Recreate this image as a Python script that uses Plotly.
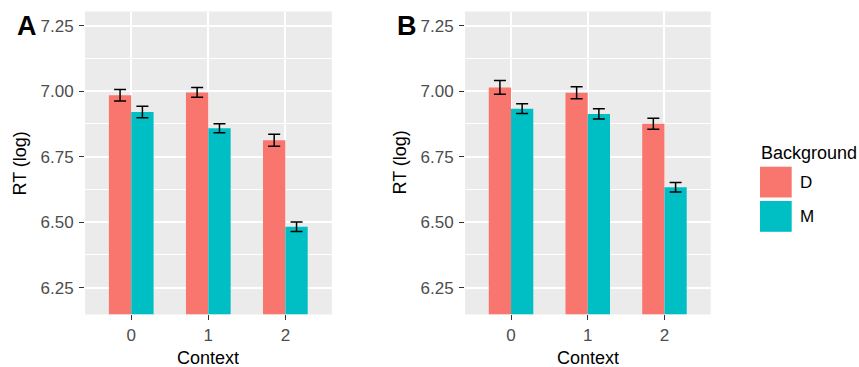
import plotly.graph_objects as go

# Mean log RT by context and background, with standard errors
contexts = ["0", "1", "2"]
groups = ["D", "M"]

a_D = [6.984, 6.995, 6.812]
a_M = [6.920, 6.858, 6.482]
a_D_se = [0.022, 0.019, 0.023]
a_M_se = [0.022, 0.017, 0.018]

b_D = [7.014, 6.994, 6.875]
b_M = [6.933, 6.913, 6.633]
b_D_se = [0.026, 0.023, 0.021]
b_M_se = [0.019, 0.020, 0.018]

y_ticks = [6.25, 6.50, 6.75, 7.00, 7.25]
y_tick_text = ["6.25", "6.50", "6.75", "7.00", "7.25"]
y_minor = [6.375, 6.625, 6.875, 7.125]

colors = {"D": "#F8766D", "M": "#00BFC4"}
FONT = "Liberation Sans, Arial, sans-serif"
W, H = 859, 367

fig = go.Figure()

panels = [
    ("x", "y", {"D": (a_D, a_D_se), "M": (a_M, a_M_se)}),
    ("x2", "y2", {"D": (b_D, b_D_se), "M": (b_M, b_M_se)}),
]
for xa, ya, data in panels:
    for g in groups:
        vals, se = data[g]
        fig.add_trace(go.Bar(
            x=contexts, y=vals, name=g, xaxis=xa, yaxis=ya,
            marker=dict(color=colors[g], line=dict(width=0)),
            error_y=dict(type="data", array=se, visible=True,
                         color="black", thickness=1.5, width=6),
            showlegend=False, hoverinfo="skip",
        ))

y_dom = [1 - 314.3 / H, 1 - 11.7 / H]
x_doms = [[85 / W, 331.6 / W], [465 / W, 710.5 / W]]

axis_common = dict(
    showline=False, zeroline=False, ticks="outside", ticklen=5,
    tickwidth=1.3, tickcolor="#333333", gridcolor="white",
    tickfont=dict(family=FONT, size=17, color="#4D4D4D"),
    automargin=False,
)

for i, xd in enumerate(x_doms):
    suffix = "" if i == 0 else str(i + 1)
    fig.update_layout(**{
        "xaxis" + suffix: dict(
            domain=xd, anchor="y" + suffix, type="category",
            range=[-0.6, 2.6], gridwidth=2, ticklabelstandoff=0,
            **axis_common),
        "yaxis" + suffix: dict(
            domain=y_dom, anchor="x" + suffix,
            range=[6.148, 7.303], tickvals=y_ticks, ticktext=y_tick_text,
            gridwidth=2, ticklabelstandoff=2,
            minor=dict(tickvals=y_minor, showgrid=True, gridcolor="white",
                       gridwidth=1, ticks=""),
            **axis_common),
    })

shapes = []
annotations = []
# panel backgrounds
for xd in x_doms:
    shapes.append(dict(type="rect", xref="paper", yref="paper",
                       x0=xd[0], x1=xd[1], y0=y_dom[0], y1=y_dom[1],
                       fillcolor="#EBEBEB", line=dict(width=0), layer="below"))

title_font = dict(family=FONT, size=18, color="black")
for xd, tag, tag_x in zip(x_doms, ["A", "B"], [26.5, 406.5]):
    annotations.append(dict(text="Context", xref="paper", yref="paper",
                            x=(xd[0] + xd[1]) / 2, y=1 - 358 / H,
                            showarrow=False, font=title_font,
                            height=18, borderpad=0, valign="middle",
                            xanchor="center", yanchor="middle"))
    annotations.append(dict(text="RT (log)", xref="paper", yref="paper",
                            x=xd[0] - 65.5 / W, y=(y_dom[0] + y_dom[1]) / 2,
                            textangle=-90, showarrow=False, font=title_font,
                            xanchor="center", yanchor="middle"))
    annotations.append(dict(text="<b>" + tag + "</b>", xref="paper", yref="paper",
                            x=tag_x / W, y=1 - 26 / H, showarrow=False,
                            font=dict(family=FONT, size=27, color="black"),
                            xanchor="center", yanchor="middle"))

# legend drawn as keys plus labels
annotations.append(dict(text="Background", xref="paper", yref="paper",
                        x=759 / W, y=1 - 153 / H, showarrow=False,
                        font=title_font, xanchor="left", yanchor="middle"))
key_tops = [166.7, 201.0]
for g, top in zip(groups, key_tops):
    shapes.append(dict(type="rect", xref="paper", yref="paper",
                       x0=760 / W, x1=791.7 / W,
                       y0=1 - (top + 30.8) / H, y1=1 - top / H,
                       fillcolor=colors[g], line=dict(width=0)))
    annotations.append(dict(text=g, xref="paper", yref="paper",
                            x=798 / W, y=1 - (top + 15.4) / H, showarrow=False,
                            font=dict(family=FONT, size=17, color="black"),
                            xanchor="left", yanchor="middle"))

fig.update_layout(
    width=W, height=H, margin=dict(l=0, r=0, t=0, b=0),
    paper_bgcolor="white", plot_bgcolor="#EBEBEB",
    barmode="group", bargap=0.42, bargroupgap=0,
    shapes=shapes, annotations=annotations, showlegend=False,
)

fig.write_html("out.html")
